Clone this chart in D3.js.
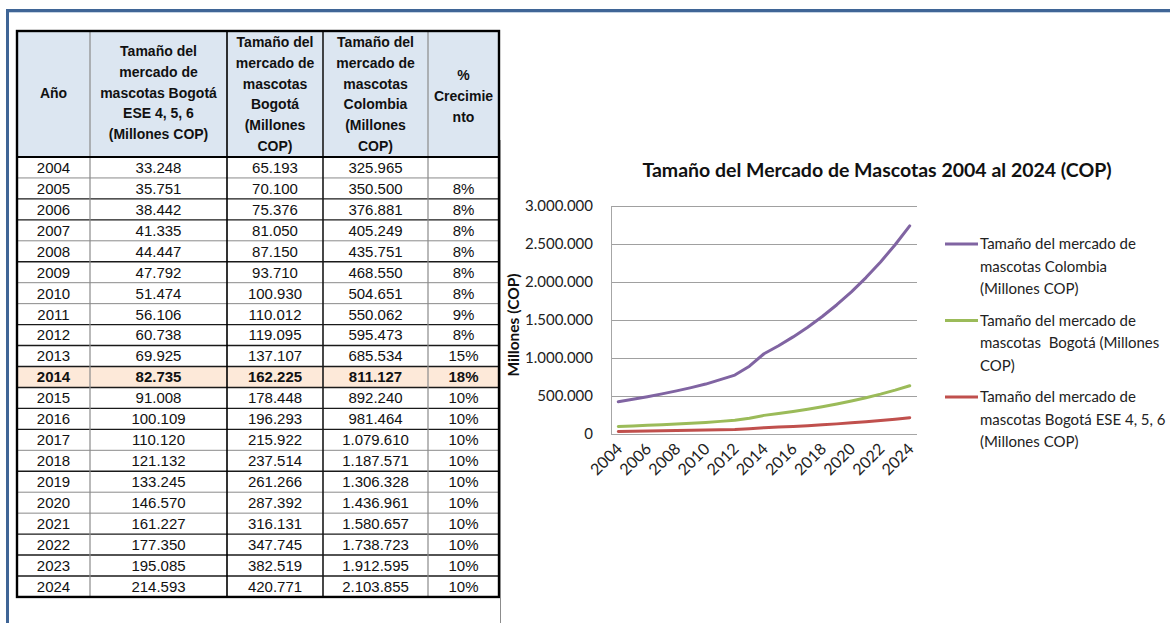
<!DOCTYPE html>
<meta charset="utf-8">
<script src="https://d3js.org/d3.v7.min.js"></script>
<style>
  body { margin: 0; background: #fff; }
  svg { display: block; }
</style>
<div id="chart"></div>
<script>

// table / chart data
var years = ["2004","2005","2006","2007","2008","2009","2010","2011","2012","2013","2014",
             "2015","2016","2017","2018","2019","2020","2021","2022","2023","2024"];
var ese = [33248, 35751, 38442, 41335, 44447, 47792, 51474, 56106, 60738, 69925, 82735,
           91008, 100109, 110120, 121132, 133245, 146570, 161227, 177350, 195085, 214593];
var bogota = [65193, 70100, 75376, 81050, 87150, 93710, 100930, 110012, 119095, 137107, 162225,
              178448, 196293, 215922, 237514, 261266, 287392, 316131, 347745, 382519, 420771];
var colombia = [325965, 350500, 376881, 405249, 435751, 468550, 504651, 550062, 595473, 685534, 811127,
                892240, 981464, 1079610, 1187571, 1306328, 1436961, 1580657, 1738723, 1912595, 2103855];
var growth = ["", "8%", "8%", "8%", "8%", "8%", "8%", "9%", "8%", "15%", "18%",
              "10%", "10%", "10%", "10%", "10%", "10%", "10%", "10%", "10%", "10%"];
var highlightYear = "2014";

var headers = [
  ["Año"],
  ["Tamaño del", "mercado de", "mascotas Bogotá", "ESE 4, 5, 6", "(Millones COP)"],
  ["Tamaño del", "mercado de", "mascotas", "Bogotá", "(Millones", "COP)"],
  ["Tamaño del", "mercado de", "mascotas", "Colombia", "(Millones", "COP)"],
  ["%", "Crecimie", "nto"]
];

var seriesKeys = ["ese", "bogota", "colombia"];
var seriesNames = {
  colombia: ["Tamaño del mercado de", "mascotas Colombia", "(Millones COP)"],
  bogota: ["Tamaño del mercado de", "mascotas  Bogotá (Millones", "COP)"],
  ese: ["Tamaño del mercado de", "mascotas Bogotá ESE 4, 5, 6", "(Millones COP)"]
};
var legendOrder = ["colombia", "bogota", "ese"];
var colors = {colombia: "#8064a2", bogota: "#9bbb59", ese: "#c0504d"};
var yTicks = [0, 500000, 1000000, 1500000, 2000000, 2500000, 3000000];

var locale = d3.formatLocale({decimal: ",", thousands: ".", grouping: [3], currency: ["$", ""]});
var fmt = locale.format(",d");

var W = 1170, H = 623;
var svg = d3.select("#chart").append("svg")
    .attr("width", W)
    .attr("height", H);

// outer blue frame
svg.append("line").attr("x1", 6).attr("x2", W).attr("y1", 10.5).attr("y2", 10.5)
  .attr("stroke", "#3f6596").attr("stroke-width", 3);
svg.append("line").attr("x1", 6).attr("x2", W).attr("y1", 12.5).attr("y2", 12.5)
  .attr("stroke", "#c5d3e3").attr("stroke-width", 1);
svg.append("line").attr("x1", 7.5).attr("x2", 7.5).attr("y1", 9).attr("y2", H)
  .attr("stroke", "#3f6596").attr("stroke-width", 3);

// ---------------- table ----------------
var colX = [17, 90, 227, 323, 428, 499];
var headTop = 31, headBottom = 157, rowH = 20.95;

var table = svg.append("g")
  .style("font-family", "'Liberation Sans', Arial, sans-serif");

table.append("rect")
  .attr("x", colX[0]).attr("y", headTop)
  .attr("width", colX[5] - colX[0]).attr("height", headBottom - headTop)
  .attr("fill", "#dce6f1");

table.selectAll("rect.hl")
  .data(years.filter(function(d) { return d == highlightYear; }))
  .enter().append("rect")
    .attr("class", "hl")
    .attr("x", colX[0])
    .attr("y", function(d) { return headBottom + years.indexOf(d) * rowH; })
    .attr("width", colX[5] - colX[0])
    .attr("height", rowH)
    .attr("fill", "#fde9d9");

// header texts
var headStart = [93, 51, 42, 42, 75];
headers.forEach(function(lines, c) {
  var cx = (colX[c] + colX[c + 1]) / 2;
  table.append("g").selectAll("text")
    .data(lines)
    .enter().append("text")
      .attr("x", cx)
      .attr("y", function(d, i) { return headStart[c] + i * 20.8; })
      .attr("dy", "0.35em")
      .attr("text-anchor", "middle")
      .style("font-size", "14px")
      .style("font-weight", "bold")
      .style("fill", "#111")
      .text(function(d) { return d; });
});

// body rows
var rows = years.map(function(y, i) {
  return [y, fmt(ese[i]), fmt(bogota[i]), fmt(colombia[i]), growth[i]];
});
var rowG = table.selectAll("g.row")
  .data(rows)
  .enter().append("g")
    .attr("class", "row")
    .attr("transform", function(d, i) { return "translate(0," + (headBottom + i * rowH + rowH / 2) + ")"; });

rowG.selectAll("text")
  .data(function(d) { return d; })
  .enter().append("text")
    .attr("x", function(d, c) { return (colX[c] + colX[c + 1]) / 2; })
    .attr("dy", "0.36em")
    .attr("text-anchor", "middle")
    .style("font-size", "15px")
    .style("fill", "#111")
    .style("font-weight", function() {
      return d3.select(this.parentNode).datum()[0] == highlightYear ? "bold" : "normal";
    })
    .text(function(d) { return d; });

// row separators (mix of gray and black like the sheet)
var grayAfter = [0, 3, 5, 6, 13, 15, 16];
for (var i = 1; i < years.length; i++) {
  var yy = headBottom + i * rowH;
  var gray = grayAfter.indexOf(i - 1) >= 0;
  table.append("line")
    .attr("x1", colX[0]).attr("x2", colX[5])
    .attr("y1", yy).attr("y2", yy)
    .attr("stroke", gray ? "#8a8a8a" : "#1a1a1a")
    .attr("stroke-width", gray ? 1 : 1.4);
}
// column separators
var colStroke = ["#000", "#8a8a8a", "#000", "#1a1a1a", "#8a8a8a", "#000"];
colX.forEach(function(x, c) {
  if (c == 0 || c == 5) return;
  table.append("line")
    .attr("x1", x).attr("x2", x)
    .attr("y1", headTop).attr("y2", headBottom + years.length * rowH)
    .attr("stroke", colStroke[c])
    .attr("stroke-width", colStroke[c] == "#8a8a8a" ? 1.2 : 1.6);
});
// header bottom and outer border
table.append("line")
  .attr("x1", colX[0]).attr("x2", colX[5])
  .attr("y1", headBottom).attr("y2", headBottom)
  .attr("stroke", "#000").attr("stroke-width", 2);
table.append("rect")
  .attr("x", colX[0]).attr("y", headTop)
  .attr("width", colX[5] - colX[0])
  .attr("height", headBottom + years.length * rowH - headTop)
  .attr("fill", "none")
  .attr("stroke", "#000")
  .attr("stroke-width", 2.4);

// ---------------- chart ----------------
// chart object frame
svg.append("line").attr("x1", 500.5).attr("x2", 500.5).attr("y1", 140).attr("y2", H)
  .attr("stroke", "#8c8c8c").attr("stroke-width", 1);

var plot = {left: 611, right: 917, top: 206, bottom: 434};
var chart = svg.append("g").style("font-family", "Lato, 'Open Sans', sans-serif");

var x = d3.scaleBand()
  .domain(years)
  .range([plot.left, plot.right]);
var y = d3.scaleLinear()
  .domain([0, 3000000])
  .range([plot.bottom, plot.top]);

chart.append("text")
  .attr("x", 877)
  .attr("y", 170)
  .attr("dy", "0.35em")
  .attr("text-anchor", "middle")
  .style("font-size", "19.5px")
  .style("font-weight", "bold")
  .style("fill", "#111")
  .text("Tamaño del Mercado de Mascotas 2004 al 2024 (COP)");

// gridlines
chart.append("g")
  .selectAll("line")
  .data(yTicks)
  .enter().append("line")
    .attr("x1", plot.left).attr("x2", plot.right)
    .attr("y1", function(d) { return Math.round(y(d)) + 0.5; })
    .attr("y2", function(d) { return Math.round(y(d)) + 0.5; })
    .attr("stroke", function(d) { return d == 0 ? "#a6a6a6" : "#a0a0a0"; })
    .attr("stroke-width", 1);
chart.append("line")
  .attr("x1", plot.left + 0.5).attr("x2", plot.left + 0.5)
  .attr("y1", plot.top).attr("y2", plot.bottom)
  .attr("stroke", "#a6a6a6");

// y axis labels
var yAxis = chart.append("g")
  .attr("transform", "translate(" + (plot.left - 18) + ",0)")
  .call(d3.axisLeft(y).tickValues(yTicks).tickFormat(fmt).tickSize(0).tickPadding(0));
yAxis.select(".domain").remove();
yAxis.selectAll("text")
  .style("font-family", "Lato, 'Open Sans', sans-serif")
  .style("font-size", "15px")
  .style("fill", "#222");

chart.append("text")
  .attr("transform", "translate(514," + ((plot.top + plot.bottom) / 2 + 5) + ") rotate(-90)")
  .attr("dy", "0.35em")
  .attr("text-anchor", "middle")
  .style("font-size", "15.5px")
  .style("font-weight", "bold")
  .style("fill", "#111")
  .text("Millones (COP)");

// x labels (every other year)
chart.append("g")
  .selectAll("text")
  .data(years.filter(function(d, i) { return i % 2 == 0; }))
  .enter().append("text")
    .attr("transform", function(d) {
      return "translate(" + (x(d) + x.bandwidth() / 2 + 5) + ",450) rotate(-45)";
    })
    .attr("text-anchor", "end")
    .style("font-size", "16px")
    .style("fill", "#222")
    .text(function(d) { return d; });

// stacked lines, as in the spreadsheet chart
var tableRows = years.map(function(yr, i) {
  return {year: yr, ese: ese[i], bogota: bogota[i], colombia: colombia[i]};
});
var stacked = d3.stack().keys(seriesKeys)(tableRows);

var line = d3.line()
  .x(function(d) { return x(d.data.year) + x.bandwidth() / 2; })
  .y(function(d) { return y(d[1]); });

chart.append("g")
  .selectAll("path")
  .data(stacked)
  .enter().append("path")
    .attr("d", line)
    .attr("fill", "none")
    .attr("stroke", function(d) { return colors[d.key]; })
    .attr("stroke-width", 3)
    .attr("stroke-linejoin", "round")
    .attr("stroke-linecap", "round");

// legend
var legend = chart.append("g")
  .selectAll("g")
  .data(legendOrder)
  .enter().append("g")
    .attr("transform", function(d, i) { return "translate(945," + (244 + i * 76.5) + ")"; });

legend.append("line")
  .attr("x1", 0).attr("x2", 33)
  .attr("stroke", function(d) { return colors[d]; })
  .attr("stroke-width", 3);

legend.append("text")
  .attr("x", 35)
  .attr("y", 0)
  .style("font-size", "15px")
  .style("fill", "#222")
  .style("white-space", "pre")
  .selectAll("tspan")
  .data(function(d) { return seriesNames[d]; })
  .enter().append("tspan")
    .attr("x", 35)
    .attr("y", function(d, i) { return i * 22.5; })
    .attr("dy", "0.35em")
    .text(function(d) { return d; });

</script>
